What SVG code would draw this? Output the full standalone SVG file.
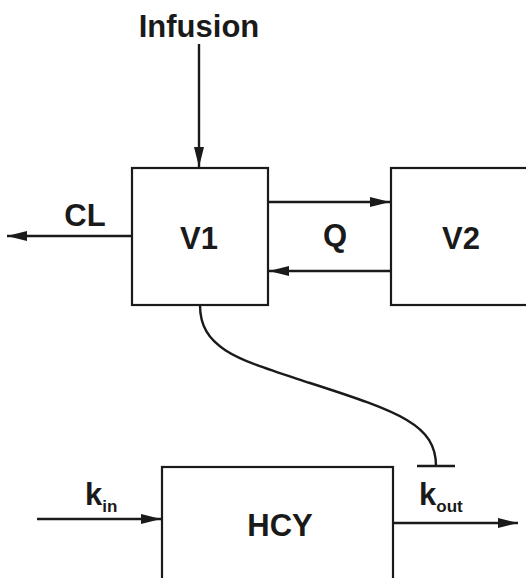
<svg xmlns="http://www.w3.org/2000/svg" width="526" height="578" viewBox="0 0 526 578">
<defs>
<style>
.box{fill:#fff;stroke:#1a1a1a;stroke-width:2.2}
.ln{fill:none;stroke:#1a1a1a;stroke-width:2.4}
.t{font-family:"Liberation Sans",Arial,sans-serif;font-weight:bold;font-size:31px;fill:#1a1a1a}
.c{text-anchor:middle}
.sub{font-size:17px}
</style>
<marker id="arr" markerUnits="userSpaceOnUse" markerWidth="22" markerHeight="12" refX="20" refY="5" orient="auto">
<path d="M0,0 L20,5 L0,10 z" fill="#1a1a1a"/>
</marker>
</defs>
<rect width="526" height="578" fill="#fff"/>
<g id="connectors">
<line class="ln" x1="199" y1="44" x2="199" y2="167" marker-end="url(#arr)"/>
<line class="ln" x1="132" y1="236" x2="7" y2="236" marker-end="url(#arr)"/>
<line class="ln" x1="268" y1="202" x2="390" y2="202" marker-end="url(#arr)"/>
<line class="ln" x1="391" y1="271" x2="269" y2="271" marker-end="url(#arr)"/>
<line class="ln" x1="37" y1="519" x2="161" y2="519" marker-end="url(#arr)"/>
<line class="ln" x1="393" y1="523" x2="518" y2="523" marker-end="url(#arr)"/>
<path class="ln" d="M200,305 C200,350 240,360 310,383 C400,412 436,425 436,466"/>
<line class="ln" x1="417" y1="466" x2="455" y2="466"/>
</g>
<g id="infusion"><text class="t c" x="199" y="37">Infusion</text></g>
<g id="cl"><text class="t c" x="85" y="226">CL</text></g>
<g id="q"><text class="t c" x="335" y="246">Q</text></g>
<g id="V1"><rect class="box" x="132" y="168" width="136" height="137"/><text class="t c" x="199" y="249">V1</text></g>
<g id="V2"><rect class="box" x="391" y="168" width="150" height="137"/><text class="t c" x="461" y="249">V2</text></g>
<g id="HCY"><rect class="box" x="162" y="467" width="231" height="130"/><text class="t c" x="280" y="536">HCY</text></g>
<g id="kin"><text class="t" x="85" y="505">k<tspan class="sub" dy="7">in</tspan></text></g>
<g id="kout"><text class="t" x="419" y="505">k<tspan class="sub" dy="7">out</tspan></text></g>
</svg>
